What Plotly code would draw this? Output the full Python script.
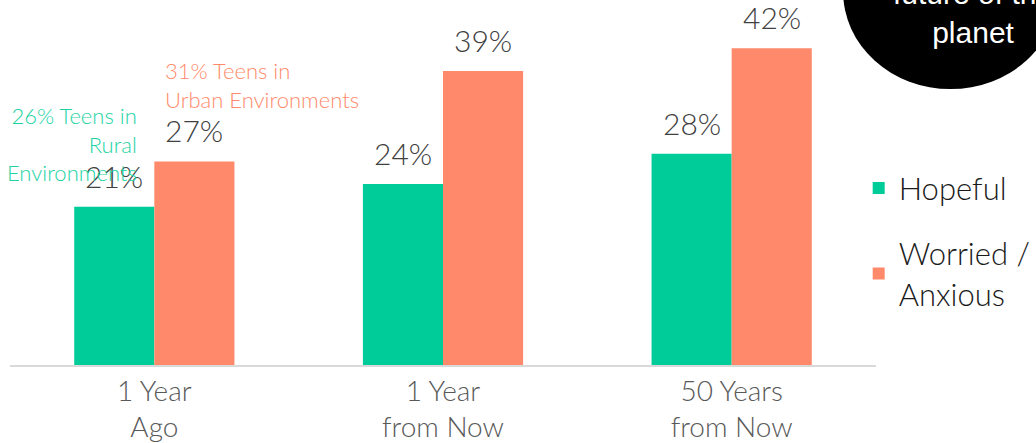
import plotly.graph_objects as go

# chart data
categories = ["1 Year<br>Ago", "1 Year<br>from Now", "50 Years<br>from Now"]
hopeful = [21, 24, 28]
worried = [27, 39, 42]

series_names = ["Hopeful", "Worried /<br>Anxious"]
series_colors = ["#00CC99", "#FF8A6B"]

FONT = "Lato"

fig = go.Figure()
for name, vals, col in zip(series_names, [hopeful, worried], series_colors):
    fig.add_trace(go.Bar(
        x=categories, y=vals, name=name,
        marker=dict(color=col, line=dict(width=0)),
        legendgroup=name,
        hoverinfo="skip",
    ))

# value labels above each bar (driven by the arrays)
annotations = []
for shift, vals in zip([-40, 40], [hopeful, worried]):
    for cat, v in zip(categories, vals):
        annotations.append(dict(
            x=cat, y=v, xref="x", yref="y", xshift=shift, yshift=11,
            text=f"{v}%", showarrow=False, yanchor="bottom",
            font=dict(family=FONT, size=30, color="#404040", weight=300),
        ))

# side notes
annotations.append(dict(
    x=0.1767, y=0.85, xref="paper", yref="paper", xanchor="left", yanchor="top",
    text="31% Teens in<br>Urban Environments", align="left", showarrow=False,
    font=dict(family=FONT, size=22, color="#FF8A6B", weight=300),
))
annotations.append(dict(
    x=0.149, y=0.725, xref="paper", yref="paper", xanchor="right", yanchor="top",
    text="26% Teens in<br>Rural<br>Environments", align="right", showarrow=False,
    font=dict(family=FONT, size=22, color="#1DD3A4", weight=300),
))
# text inside black circle
annotations.append(dict(
    x=1.112, y=0.86, xref="paper", yref="paper", xanchor="center", yanchor="bottom",
    text="future of the<br>planet", align="center", showarrow=False,
    font=dict(family="Liberation Sans", size=30, color="white"),
))

fig.update_layout(
    width=1036, height=443,
    margin=dict(l=10, r=156, t=0, b=74),
    paper_bgcolor="white", plot_bgcolor="white",
    barmode="group", bargap=0.445, bargroupgap=0,
    showlegend=True,
    legend=dict(
        x=0.98, y=0.34, xanchor="left", yanchor="middle",
        font=dict(family=FONT, size=31, color="#1a1a1a", weight=300),
        traceorder="grouped", tracegroupgap=22,
        bgcolor="rgba(0,0,0,0)",
    ),
    xaxis=dict(
        showline=True, linecolor="#D9D9D9", linewidth=2,
        showgrid=False, ticks="",
        tickfont=dict(family=FONT, size=28, color="#595959", weight=300),
    ),
    yaxis=dict(range=[0, 48.4], visible=False, showgrid=False),
    annotations=annotations,
    shapes=[dict(
        type="circle", xref="paper", yref="paper",
        x0=0.962, x1=1.21, y0=0.756, y1=1.29,
        fillcolor="black", line=dict(width=0), layer="above",
    )],
)

fig.write_html(
    "out.html",
    config={"displayModeBar": False},
    post_script="document.body.style.margin='0';document.body.style.overflow='hidden';",
)
